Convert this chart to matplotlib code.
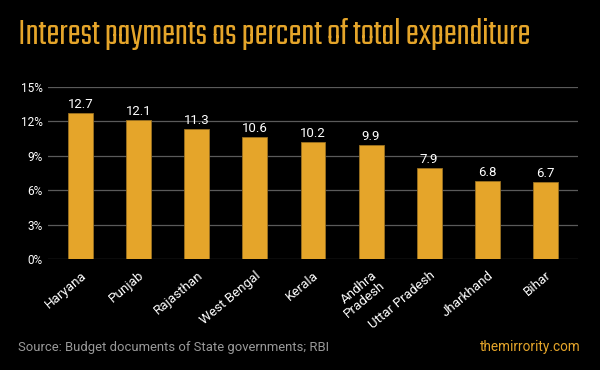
import matplotlib
matplotlib.use("Agg")
import matplotlib.pyplot as plt
from matplotlib import font_manager

states = ["Haryana", "Punjab", "Rajasthan", "West Bengal", "Kerala",
          "Andhra\nPradesh", "Uttar Pradesh", "Jharkhand", "Bihar"]
values = [12.7, 12.1, 11.3, 10.6, 10.2, 9.9, 7.9, 6.8, 6.7]
yticks = [0, 3, 6, 9, 12, 15]
ytick_labels = ["0%", "3%", "6%", "9%", "12%", "15%"]

names = {f.name for f in font_manager.fontManager.ttflist}
title_font = "DejaVu Sans"
for cand in ["Saira Extra Condensed", "Teko", "Saira Condensed", "Oswald",
             "Antonio", "Pathway Gothic One", "Liberation Sans Narrow"]:
    if cand in names:
        title_font = cand
        break
plt.rcParams['font.family'] = ['Roboto', 'DejaVu Sans']

ORANGE = "#E5A52A"
W, H = 600, 370
fig = plt.figure(figsize=(6, 3.7), dpi=100, facecolor="black")
ax = fig.add_axes([48 / W, 1 - 259 / H, (578 - 48) / W, (259 - 86.7) / H])
ax.set_facecolor("black")

x = list(range(len(states)))
ax.bar(x, values, width=0.43, color=ORANGE, edgecolor="#9a7020", linewidth=0.6, zorder=3)
for xi, v in zip(x, values):
    ax.text(xi, v + 0.2, f"{v}", ha="center", va="bottom", color="white", fontsize=9.5, zorder=4)

ax.set_xlim(-0.56, 8.56)
ax.set_ylim(0, 15)
ax.set_yticks(yticks)
ax.set_yticklabels(ytick_labels, color="white", fontsize=8.5)
ax.set_xticks(x)
ax.set_xticklabels(states, rotation=40, ha="right", rotation_mode="anchor",
                   color="white", fontsize=9.6, linespacing=1.0)
ax.tick_params(axis="both", length=0)
ax.tick_params(axis="x", pad=7)
ax.tick_params(axis="y", pad=4)
ax.grid(axis="y", color="#5a5a5a", linewidth=0.9, zorder=0)
for s in ax.spines.values():
    s.set_visible(False)

title = fig.text(18 / W, 1 - 34 / H, "Interest payments as percent of total expenditure",
                 family=title_font, fontweight="bold", fontsize=20, color=ORANGE,
                 ha="left", va="center")
fig.canvas.draw()
wpx = title.get_window_extent().width
title.set_fontsize(20 * 512 / wpx)

fig.text(18 / W, 1 - 347 / H, "Source: Budget documents of State governments; RBI",
         color="#9a9a9a", fontsize=9.4, ha="left", va="center")
fig.text(581 / W, 1 - 347 / H, "themirrority.com", color=ORANGE, fontsize=9.8,
         ha="right", va="center")

fig.savefig("out.png", dpi=100, facecolor="black")
